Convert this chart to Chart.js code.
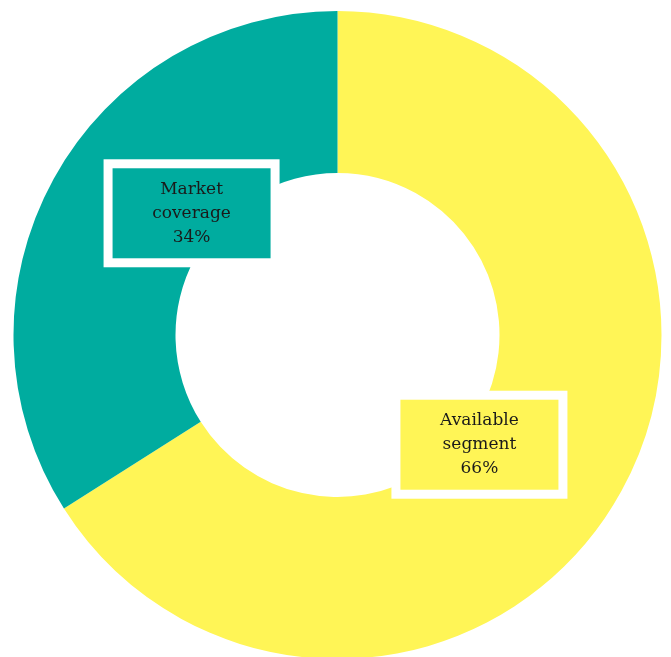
<!DOCTYPE html>
<html>
<head>
<meta charset="utf-8">
<script src="https://cdn.jsdelivr.net/npm/chart.js@4"></script>
<style>
  html, body { margin: 0; padding: 0; background: #fff; overflow: hidden; }
  #wrap { position: absolute; left: 0; top: 0; width: 671px; height: 670px; }
</style>
</head>
<body>
<div id="wrap"><canvas id="coverageDonut"></canvas></div>
<script>
// Share of the market that is covered vs still available
const labels = ['Available segment', 'Market coverage'];
const shares = [66, 34];
const sliceColors = ['#fff556', '#00ac9f'];

// Boxed labels: white frame, filled with the slice colour, three text lines
const boxLabels = {
  id: 'boxLabels',
  afterDatasetsDraw(chart) {
    const ctx = chart.ctx;
    const meta = chart.getDatasetMeta(0);
    const boxW = 158, boxH = 90, frame = 9;
    meta.data.forEach((arc, i) => {
      const p = arc.getProps(['x', 'y', 'startAngle', 'endAngle', 'innerRadius', 'outerRadius'], true);
      const angle = (p.startAngle + p.endAngle) / 2 + 10 * Math.PI / 180;
      const r = p.innerRadius + 0.14 * (p.outerRadius - p.innerRadius);
      const cx = p.x + r * Math.cos(angle) - 2;
      const cy = p.y + r * Math.sin(angle) - 6;

      ctx.save();
      ctx.fillStyle = '#ffffff';
      ctx.fillRect(cx - boxW / 2 - frame, cy - boxH / 2 - frame, boxW + 2 * frame, boxH + 2 * frame);
      ctx.fillStyle = sliceColors[i];
      ctx.fillRect(cx - boxW / 2, cy - boxH / 2, boxW, boxH);

      const words = labels[i].split(' ');
      const lines = [words[0], words.slice(1).join(' '), shares[i] + '%'];
      ctx.fillStyle = '#1a1a1a';
      ctx.font = '17px "DejaVu Serif", serif';
      ctx.textAlign = 'center';
      ctx.textBaseline = 'middle';
      lines.forEach((t, k) => ctx.fillText(t, cx, cy + (k - 1) * 24));
      ctx.restore();
    });
  }
};

document.addEventListener('DOMContentLoaded', function() {
  const ctx = document.getElementById('coverageDonut').getContext('2d');
  new Chart(ctx, {
    type: 'doughnut',
    data: {
      labels: labels,
      datasets: [{
        data: shares,
        backgroundColor: sliceColors,
        borderWidth: 0,
        hoverOffset: 0
      }]
    },
    options: {
      responsive: true,
      maintainAspectRatio: false,
      animation: false,
      cutout: '50%',
      layout: { padding: { top: 11, left: 13, right: 9, bottom: 11 } },
      plugins: {
        legend: { display: false },
        tooltip: { enabled: false }
      }
    },
    plugins: [boxLabels]
  });
});
</script>
</body>
</html>
